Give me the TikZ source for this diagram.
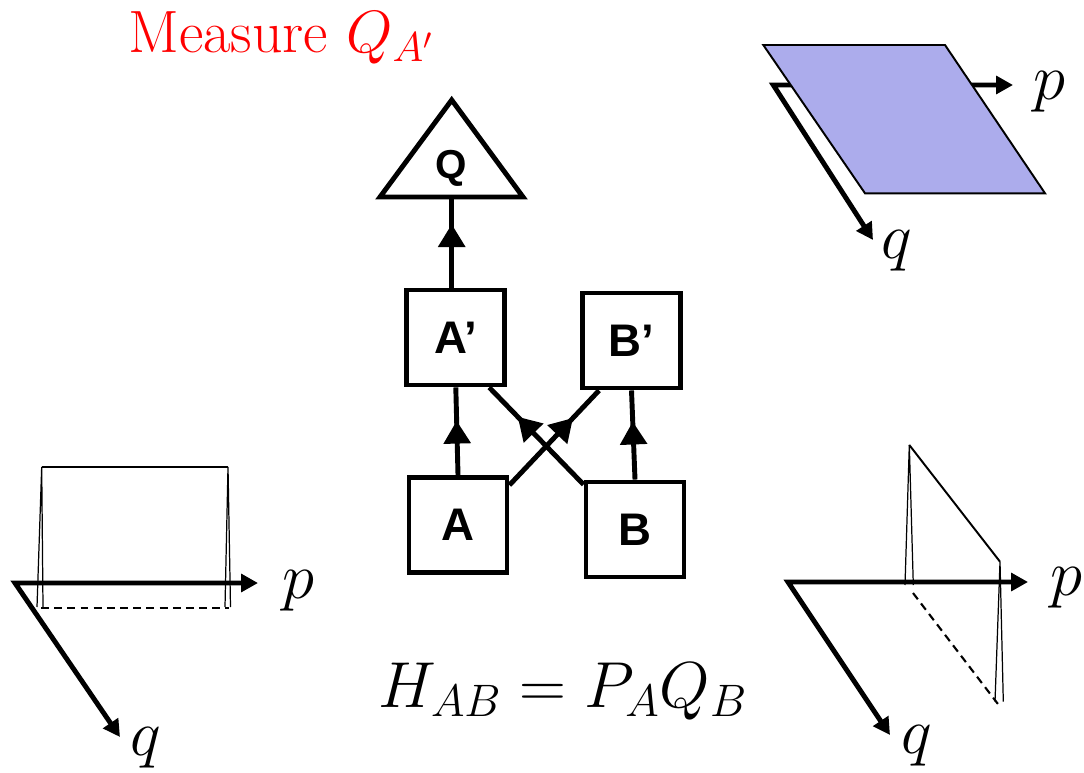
\documentclass[tikz,border=0pt]{standalone}
\usepackage{fix-cm}
\usepackage{amsmath}
\usepackage{fontspec}
\newfontfamily\labelfont{Liberation Sans}
\usetikzlibrary{positioning,calc}
\usetikzlibrary{arrows.meta,decorations.markings}
\definecolor{MeasRed}{RGB}{255,0,0}
\definecolor{PlaneBlue}{RGB}{172,172,236}
\tikzset{
	blk/.style={draw=black,line width=2.8pt,minimum width=1.96cm,minimum height=1.9cm,
		inner sep=0pt,font=\labelfont\bfseries\fontsize{26}{30}\selectfont},
	flow/.style={line width=2.8pt,postaction={decorate},decoration={markings,
		mark=at position #1 with {\arrow{Triangle[length=13pt,width=15pt]}}}},
	flow/.default=0.6,
	axis/.style={line width=2.8pt},
	axlab/.style={inner sep=0pt,font=\fontsize{37}{42}\selectfont},
	spike/.style={line width=0.7pt},
	ridge/.style={line width=1.1pt},
	shadow/.style={line width=1.2pt,dash pattern=on 4.5pt off 3pt},
}

\begin{document}
\begin{tikzpicture}[x=0.02cm,y=-0.02cm]
	\useasboundingbox (0,0) rectangle (1084,773);
	% title and formula
	\node[anchor=base west,inner sep=0pt,text=MeasRed,font=\fontsize{34}{40}\selectfont]
	(meas) at (128,53) {Measure $Q_{A'}$};
	\node[anchor=base west,inner sep=0pt,font=\fontsize{37}{44}\selectfont]
	(ham) at (378,707) {$H_{AB} = P_AQ_B$};
	% circuit
	\coordinate (Qt) at (451.7,100);
	\coordinate (Qr) at (523,197);
	\coordinate (Ql) at (380,197);
	\coordinate (Qb) at (451.7,197);
	\draw[line width=2.8pt] (Qt) -- (Qr) -- (Ql) -- cycle;
	\node[inner sep=0pt,font=\labelfont\bfseries\fontsize{23}{27}\selectfont] (Q) at (451.7,168) {Q};
	\node[blk] (Ap) at (455.8,337.5) {A’};
	\node[blk] (Bp) at (631.5,340.5) {B’};
	\node[blk] (A) at (458,525) {A};
	\node[blk] (B) at (635,529.5) {B};
	\draw[flow=0.7] (Ap.north -| Qb) -- (Qb);
	\draw[flow=0.62] (A.north) -- (Ap.south);
	\draw[flow=0.65] (B.north) -- (Bp.south);
	\draw[flow=0.7] ($(B.north west)+(0,5)$) -- ($(Ap.south east)+(-18,0)$);
	\draw[flow=0.71] ($(A.north east)+(0,10)$) -- ($(Bp.south west)+(19,0)$);
	% phase space, uniform in p
	\coordinate (o1) at (15,583);
	\coordinate (p1) at (258,583);
	\coordinate (q1) at (120,737);
	\draw[axis,{Triangle[length=9.6pt,width=10pt]}-{Triangle[length=9.6pt,width=10pt]}]
	(p1) -- (o1) -- (q1);
	\node[axlab] (pl1) at (298,591) {$p$};
	\node[axlab] (ql1) at (146,748) {$q$};
	\draw[spike] (37,607) -- (41.7,467) -- (43,607);
	\draw[ridge] (41.7,467) -- (228,467);
	\draw[spike] (225,607) -- (228,467) -- (230.5,607);
	\draw[shadow] (41,608) -- (229,608);
	% phase space, correlated
	\coordinate (o2) at (788,582);
	\coordinate (p2) at (1028,582);
	\coordinate (q2) at (890,735);
	\draw[axis,{Triangle[length=9.6pt,width=10pt]}-{Triangle[length=9.6pt,width=10pt]}]
	(p2) -- (o2) -- (q2);
	\node[axlab] (pl2) at (1066,588) {$p$};
	\node[axlab] (ql2) at (917,746) {$q$};
	\draw[spike] (905,585) -- (909.3,445) -- (913.3,585);
	\draw[ridge] (909.3,445) -- (1000,561.7);
	\draw[spike] (995,701.7) -- (1000,561.7) -- (1003.3,701.7);
	\draw[shadow] (913,593) -- (1000,706.7);
	% phase space, after measurement
	\coordinate (o3) at (773.3,85);
	\coordinate (p3) at (1013,85);
	\coordinate (q3) at (873,240);
	\draw[axis,{Triangle[length=9.6pt,width=10pt]}-{Triangle[length=9.6pt,width=10pt]}]
	(p3) -- (o3) -- (q3);
	\filldraw[fill=PlaneBlue,draw=black,line width=1.1pt]
	(763.3,45) -- (945,45) -- (1045,193.3) -- (865,193.3) -- cycle;
	\node[axlab] (pl3) at (1049,91.7) {$p$};
	\node[axlab] (ql3) at (897,251) {$q$};
\end{tikzpicture}
\end{document}
